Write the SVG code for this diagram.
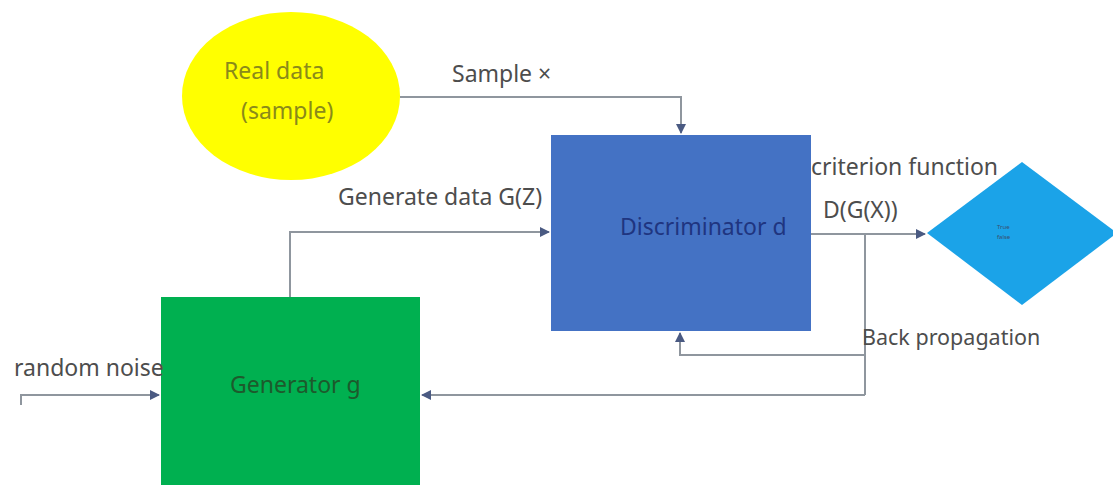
<svg xmlns="http://www.w3.org/2000/svg" width="1113" height="485" viewBox="0 0 1113 485">
<defs>
<marker id="arr" viewBox="0 0 10 10" refX="9" refY="5" markerWidth="5" markerHeight="5" orient="auto-start-reverse" markerUnits="strokeWidth">
<path d="M0,0 L10,5 L0,10 z" fill="#4a5a82"/>
</marker>
<style>
.lbl{font-family:"Noto Sans","Open Sans",sans-serif;font-size:23px;fill:#4d4d4d}
.conn{fill:none;stroke:#8f969e;stroke-width:2;marker-end:url(#arr)}
.ln{fill:none;stroke:#8f969e;stroke-width:2}
</style>
</defs>
<rect width="1113" height="485" fill="#ffffff"/>
<g id="real-data">
<ellipse cx="291" cy="96" rx="109" ry="84" fill="#ffff00"/>
<text class="lbl" x="224" y="79" style="fill:#8a8a1a">Real data</text>
<text class="lbl" x="241" y="119" style="fill:#8a8a1a">(sample)</text>
</g>
<g id="discriminator">
<rect x="551" y="135" width="260" height="196" fill="#4472c4"/>
<text class="lbl" x="620" y="235" style="fill:#1f3580">Discriminator d</text>
</g>
<g id="generator">
<rect x="161" y="297" width="259" height="200" fill="#00b050"/>
<text class="lbl" x="230" y="393" style="fill:#1d5a2c">Generator g</text>
</g>
<g id="decision">
<polygon points="927,233 1022,162 1117,233 1022,305" fill="#1ba3e8"/>
<text x="997" y="229" style="font-family:'Noto Sans',sans-serif;font-size:6px;fill:#3a4f70">True</text>
<text x="997" y="239" style="font-family:'Noto Sans',sans-serif;font-size:6px;fill:#3a4f70">false</text>
</g>
<g id="connectors">
<path class="conn" d="M400,97 H681 V133"/>
<path class="conn" d="M290,297 V232 H549"/>
<path class="conn" d="M21,405 V395 H159"/>
<path class="conn" d="M811,234 H925"/>
<path class="ln" d="M865,234 V395"/>
<path class="conn" d="M865,355 H680 V333"/>
<path class="conn" d="M865,395 H422"/>
</g>
<g id="labels">
<text class="lbl" x="452" y="82">Sample ×</text>
<text class="lbl" x="338" y="205">Generate data G(Z)</text>
<text class="lbl" x="14" y="376">random noise</text>
<text class="lbl" x="811" y="175">criterion function</text>
<text class="lbl" x="823" y="218">D(G(X))</text>
<text class="lbl" x="862" y="345" style="font-size:21.5px">Back propagation</text>
</g>
</svg>
